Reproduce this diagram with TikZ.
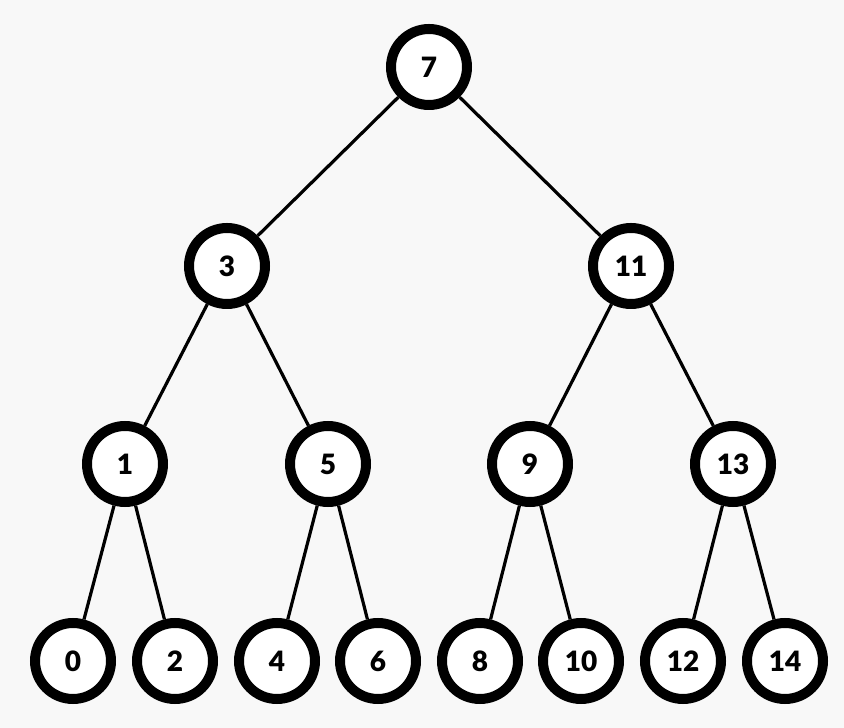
\documentclass[tikz,border=0pt]{standalone}
\usepackage{fontspec}
\setmainfont{Lato}[BoldFont={Lato Black}]
\usepackage{xcolor}
\definecolor{bgpaper}{RGB}{248,248,248}
\usetikzlibrary{
  shapes
}

\tikzset{
  key/.style={circle, draw=black, fill=white, line width=10pt,
    minimum size=76pt, inner sep=0pt,
    font=\fontsize{28}{28}\selectfont\bfseries},
  link/.style={line width=3.2pt}
}

\begin{document}
\begin{tikzpicture}[x=1pt, y=1pt]
  \def\Ya{661};
  \def\Yb{462};
  \def\Yc{264};
  \def\Yd{67};
        \fill[bgpaper] (0,0) rectangle (844,728);
        \useasboundingbox (0,0) rectangle (844,728);

        % keys, one row at a time
        \node[key] (k7) at (429, \Ya) {7};

        \node[key] (k3) at (227, \Yb) {3};
        \node[key] (k11) at (631, \Yb) {11};

        \node[key] (k1) at (125, \Yc) {1};
        \node[key] (k5) at (328, \Yc) {5};
        \node[key] (k9) at (530, \Yc) {9};
        \node[key] (k13) at (733, \Yc) {13};

        \node[key] (k0) at (73, \Yd) {0};
        \node[key] (k2) at (175, \Yd) {2};
        \node[key] (k4) at (277, \Yd) {4};
        \node[key] (k6) at (378, \Yd) {6};
        \node[key] (k8) at (480, \Yd) {8};
        \node[key] (k10) at (581, \Yd) {10};
        \node[key] (k12) at (683, \Yd) {12};
        \node[key] (k14) at (785, \Yd) {14};

	\draw[link] (k7) -- (k3);
	\draw[link] (k7) -- (k11);

	\draw[link] (k3) -- (k1);
	\draw[link] (k3) -- (k5);
	\draw[link] (k11) -- (k9);
	\draw[link] (k11) -- (k13);

	\draw[link] (k1) -- (k0);
	\draw[link] (k1) -- (k2);
	\draw[link] (k5) -- (k4);
	\draw[link] (k5) -- (k6);
	\draw[link] (k9) -- (k8);
	\draw[link] (k9) -- (k10);
	\draw[link] (k13) -- (k12);
	\draw[link] (k13) -- (k14);

\end{tikzpicture}
\end{document}
